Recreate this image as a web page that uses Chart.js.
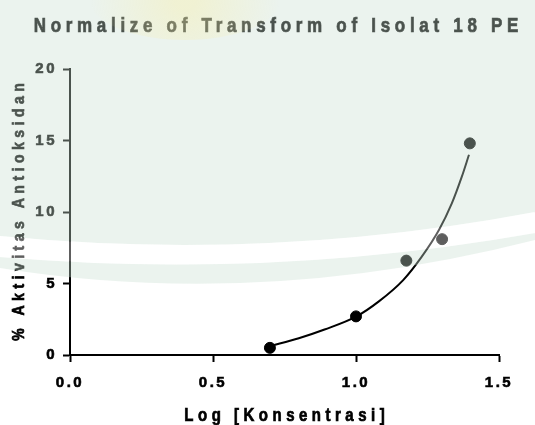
<!DOCTYPE html>
<html>
<head>
<meta charset="utf-8">
<script src="https://cdn.jsdelivr.net/npm/chart.js@4.4.1/dist/chart.umd.min.js"></script>
<style>
	html, body { margin: 0; padding: 0; background: #fff; }
	canvas { display: block; }
</style>
</head>
<body>
<canvas id="chart" width="535" height="425"></canvas>
<script>
const judul = 'Normalize of Transform of Isolat 18 PE';
const labelX = 'Log [Konsentrasi]';
const labelY = '% Aktivitas Antioksidan';

// titik data (log konsentrasi vs % aktivitas)
const logKonsentrasi = [0.699, 1.0, 1.176, 1.301, 1.398];
const aktivitas = [0.5, 2.7, 6.6, 8.1, 14.8];

// kurva hasil fit
const kurvaX = [0.70, 0.80, 0.89, 1.00, 1.08, 1.165, 1.23, 1.29, 1.335, 1.37, 1.395];
const kurvaY = [0.62, 1.17, 1.78, 2.68, 3.75, 5.24, 6.88, 8.74, 10.6, 12.47, 14.0];

const ticksX = [0, 0.5, 1.0, 1.5];
const ticksY = [0, 5, 10, 15, 20];

const FONT = '"Liberation Sans", Arial, sans-serif';

function tulisSpasi(ctx, teks, size, spasi, sy) {
	ctx.font = `bold ${size}px ${FONT}`;
	ctx.letterSpacing = '0px';
	const lebar = ctx.measureText(teks).width + spasi * (teks.length - 1);
	ctx.letterSpacing = `${spasi}px`;
	ctx.scale(1, sy);
	ctx.textAlign = 'left';
	ctx.textBaseline = 'alphabetic';
	ctx.lineWidth = 0.6;
	ctx.strokeText(teks, -lebar / 2, 0);
	ctx.fillText(teks, -lebar / 2, 0);
}

const spasiTick = {
	id: 'spasiTick',
	beforeDraw(chart) {
		chart.ctx.letterSpacing = '2.5px';
	}
};

const teksJudul = {
	id: 'teksJudul',
	afterDraw(chart) {
		const ctx = chart.ctx;
		const area = chart.chartArea;
		ctx.fillStyle = '#000';
		ctx.strokeStyle = '#000';

		ctx.save();
		ctx.translate(276, 32);
		tulisSpasi(ctx, judul, 17, 4.7, 1.2);
		ctx.restore();

		ctx.save();
		ctx.translate((area.left + area.right) / 2, 421);
		tulisSpasi(ctx, labelX, 15, 4.5, 1.2);
		ctx.restore();

		ctx.save();
		ctx.translate(24, (area.top + area.bottom) / 2);
		ctx.rotate(-Math.PI / 2);
		tulisSpasi(ctx, labelY, 14, 4.5, 1.13);
		ctx.restore();
	}
};

const watermark = {
	id: 'watermark',
	afterDraw(chart) {
		const ctx = chart.ctx;
		ctx.save();
		ctx.letterSpacing = '0px';
		// area hijau dengan garis putih melengkung
		ctx.beginPath();
		ctx.moveTo(0, 0);
		ctx.lineTo(535, 0);
		ctx.lineTo(535, 240);
		ctx.quadraticCurveTo(260, 310, 0, 268);
		ctx.closePath();
		ctx.moveTo(0, 236);
		ctx.quadraticCurveTo(270, 262, 535, 212);
		ctx.lineTo(535, 233);
		ctx.quadraticCurveTo(270, 280, 0, 257);
		ctx.closePath();
		ctx.fillStyle = 'rgba(200, 222, 208, 0.37)';
		ctx.fill('evenodd');

		ctx.beginPath();
		ctx.moveTo(0, 236);
		ctx.quadraticCurveTo(270, 262, 535, 212);
		ctx.lineTo(535, 233);
		ctx.quadraticCurveTo(270, 280, 0, 257);
		ctx.closePath();
		ctx.fillStyle = 'rgba(255, 255, 255, 0.37)';
		ctx.fill();

		const g = ctx.createRadialGradient(185, 0, 10, 185, 0, 95);
		g.addColorStop(0, 'rgba(250, 238, 160, 0.35)');
		g.addColorStop(1, 'rgba(250, 238, 160, 0)');
		ctx.beginPath();
		ctx.ellipse(185, 0, 95, 40, 0, 0, Math.PI * 2);
		ctx.fillStyle = g;
		ctx.fill();
		ctx.restore();
	}
};

const ctx = document.getElementById('chart').getContext('2d');
new Chart(ctx, {
	type: 'scatter',
	data: {
		datasets: [
			{
				label: 'Fit',
				type: 'line',
				data: kurvaX.map((x, i) => ({ x, y: kurvaY[i] })),
				borderColor: '#000',
				borderWidth: 2,
				pointRadius: 0,
				fill: false,
				cubicInterpolationMode: 'monotone'
			},
			{
				label: 'Isolat 18 PE',
				data: logKonsentrasi.map((x, i) => ({ x, y: aktivitas[i] })),
				backgroundColor: '#000',
				borderColor: '#000',
				pointRadius: 5.5,
				pointHoverRadius: 5.5
			}
		]
	},
	options: {
		responsive: false,
		devicePixelRatio: 1,
		animation: false,
		layout: { padding: { top: 69, right: 36, left: 0, bottom: 0 } },
		plugins: {
			legend: { display: false },
			tooltip: { enabled: false }
		},
		scales: {
			x: {
				type: 'linear',
				min: 0,
				max: 1.5,
				afterFit: (scale) => { scale.height = 70; },
				afterBuildTicks: (scale) => { scale.ticks = ticksX.map((v) => ({ value: v })); },
				grid: { drawOnChartArea: false, tickLength: 7, tickWidth: 2, tickColor: '#000' },
				border: { color: '#000', width: 2 },
				ticks: {
					padding: 12,
					color: '#000',
					textStrokeColor: '#000',
					textStrokeWidth: 0.6,
					font: { family: FONT, size: 15, weight: 'bold' },
					callback: (v) => Number(v).toFixed(1)
				}
			},
			y: {
				type: 'linear',
				min: 0,
				max: 20,
				afterFit: (scale) => { scale.width = 70; },
				afterBuildTicks: (scale) => { scale.ticks = ticksY.map((v) => ({ value: v })); },
				grid: { drawOnChartArea: false, tickLength: 7, tickWidth: 2, tickColor: '#000' },
				border: { color: '#000', width: 2 },
				ticks: {
					padding: 6,
					color: '#000',
					textStrokeColor: '#000',
					textStrokeWidth: 0.6,
					font: { family: FONT, size: 15, weight: 'bold' },
					callback: (v) => String(v)
				}
			}
		}
	},
	plugins: [spasiTick, teksJudul, watermark]
});
</script>
</body>
</html>
